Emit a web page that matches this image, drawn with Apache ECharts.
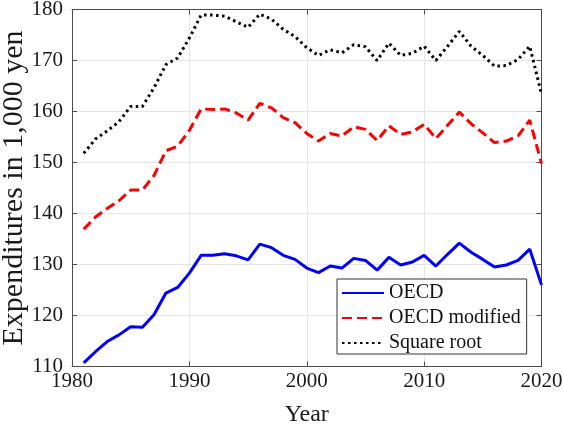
<!DOCTYPE html>
<html>
<head>
<meta charset="utf-8">
<script src="https://cdn.jsdelivr.net/npm/echarts@6/dist/echarts.min.js"></script>
<style>
  html, body { margin: 0; padding: 0; background: #fff; }
  #chart { width: 563px; height: 427px; }
</style>
</head>
<body>
<div id="chart"></div>
<script>
// Household expenditures per equivalence scale, 1981-2020 (1,000 yen)
const years = [];
for (let y = 1981; y <= 2020; y++) years.push(y);

const oecd = [
  110.7, 112.9, 114.9, 116.2, 117.8, 117.7, 120.2, 124.4, 125.5, 128.3,
  131.8, 131.8, 132.1, 131.7, 130.9, 134.0, 133.3, 131.8, 131.0, 129.3,
  128.4, 129.7, 129.3, 131.2, 130.8, 128.9, 131.4, 129.9, 130.5, 131.8,
  129.7, 132.0, 134.2, 132.4, 131.0, 129.5, 129.9, 130.8, 133.0, 126.0
];
const oecdModified = [
  136.9, 139.3, 141.0, 142.5, 144.6, 144.6, 147.5, 152.3, 153.2, 156.3,
  160.5, 160.4, 160.5, 159.7, 158.3, 161.6, 160.7, 158.8, 157.8, 155.7,
  154.2, 155.7, 155.2, 157.0, 156.5, 154.3, 157.2, 155.5, 156.0, 157.5,
  154.7, 157.3, 159.9, 157.6, 155.8, 153.9, 154.2, 155.2, 158.3, 149.8
];
const squareRoot = [
  151.8, 154.6, 156.2, 158.0, 161.0, 161.0, 164.7, 169.2, 170.5, 174.4,
  178.9, 178.9, 178.7, 177.6, 176.5, 179.1, 178.1, 176.1, 174.7, 172.5,
  171.0, 172.1, 171.5, 173.1, 172.7, 170.0, 173.4, 171.0, 171.4, 172.8,
  170.0, 172.8, 175.7, 172.8, 171.0, 168.9, 169.0, 170.2, 172.8, 163.4
];

const xTicks = { min: 1980, max: 2020, step: 10 };
const yTicks = { min: 110, max: 180, step: 10 };

const pairs = vals => years.map((yr, i) => [yr, vals[i]]);

const serif = 'Liberation Serif';
const boxColor = '#4d4d4d';
const gridColor = '#e6e6e6';

const chart = echarts.init(document.getElementById('chart'), null, { renderer: 'canvas' });

const baseX = {
  type: 'value', min: xTicks.min, max: xTicks.max, interval: xTicks.step
};
const baseY = {
  type: 'value', min: yTicks.min, max: yTicks.max, interval: yTicks.step
};

chart.setOption({
  animation: false,
  backgroundColor: '#fff',
  grid: {
    left: 72, right: 21.5, top: 9.5, bottom: 60.5,
    containLabel: false, outerBoundsMode: 'none'
  },
  xAxis: [
    Object.assign({}, baseX, {
      position: 'bottom',
      name: 'Year', nameLocation: 'middle', nameGap: 36, nameMoveOverlap: false,
      nameTextStyle: { fontFamily: serif, fontSize: 24, color: '#1a1a1a' },
      axisLine: { show: true, lineStyle: { color: boxColor, width: 1 } },
      axisTick: { show: true, inside: true, length: 5, lineStyle: { color: boxColor } },
      axisLabel: {
        fontFamily: serif, fontSize: 21, color: '#1a1a1a', margin: 4,
        formatter: v => String(v)
      },
      splitLine: { show: true, lineStyle: { color: gridColor, width: 1 } }
    }),
    Object.assign({}, baseX, {
      position: 'top',
      axisLine: { show: true, lineStyle: { color: boxColor, width: 1 } },
      axisTick: { show: true, inside: true, length: 5, lineStyle: { color: boxColor } },
      axisLabel: { show: false },
      splitLine: { show: false }
    })
  ],
  yAxis: [
    Object.assign({}, baseY, {
      position: 'left',
      name: 'Expenditures in 1,000 yen', nameLocation: 'middle', nameGap: 43,
      nameMoveOverlap: false,
      nameTextStyle: { fontFamily: serif, fontSize: 30, color: '#1a1a1a' },
      axisLine: { show: true, lineStyle: { color: boxColor, width: 1 } },
      axisTick: { show: true, inside: true, length: 5, lineStyle: { color: boxColor } },
      axisLabel: { fontFamily: serif, fontSize: 21, color: '#1a1a1a', margin: 9 },
      splitLine: { show: true, lineStyle: { color: gridColor, width: 1 } }
    }),
    Object.assign({}, baseY, {
      position: 'right',
      axisLine: { show: true, lineStyle: { color: boxColor, width: 1 } },
      axisTick: { show: true, inside: true, length: 5, lineStyle: { color: boxColor } },
      axisLabel: { show: false },
      splitLine: { show: false }
    })
  ],
  legend: {
    orient: 'vertical',
    left: 337, top: 279,
    itemWidth: 42, itemHeight: 14, itemGap: 5,
    padding: [4, 6, 1, 4],
    borderColor: '#333', borderWidth: 1, borderRadius: 0,
    backgroundColor: '#fff',
    itemStyle: { opacity: 0 },
    textStyle: { fontFamily: serif, fontSize: 20, lineHeight: 20, color: '#111' },
    data: ['OECD', 'OECD modified', 'Square root']
  },
  series: [
    {
      name: 'OECD', type: 'line', showSymbol: false, symbol: 'none',
      data: pairs(oecd),
      lineStyle: { color: '#0000ff', width: 3, type: 'solid' },
      itemStyle: { color: '#0000ff' }
    },
    {
      name: 'OECD modified', type: 'line', showSymbol: false, symbol: 'none',
      data: pairs(oecdModified),
      lineStyle: { color: '#ff0000', width: 3, type: [10, 5] },
      itemStyle: { color: '#ff0000' }
    },
    {
      name: 'Square root', type: 'line', showSymbol: false, symbol: 'none',
      data: pairs(squareRoot),
      lineStyle: { color: '#000000', width: 3, type: [2.5, 3.5] },
      itemStyle: { color: '#000000' }
    }
  ]
});
</script>
</body>
</html>
